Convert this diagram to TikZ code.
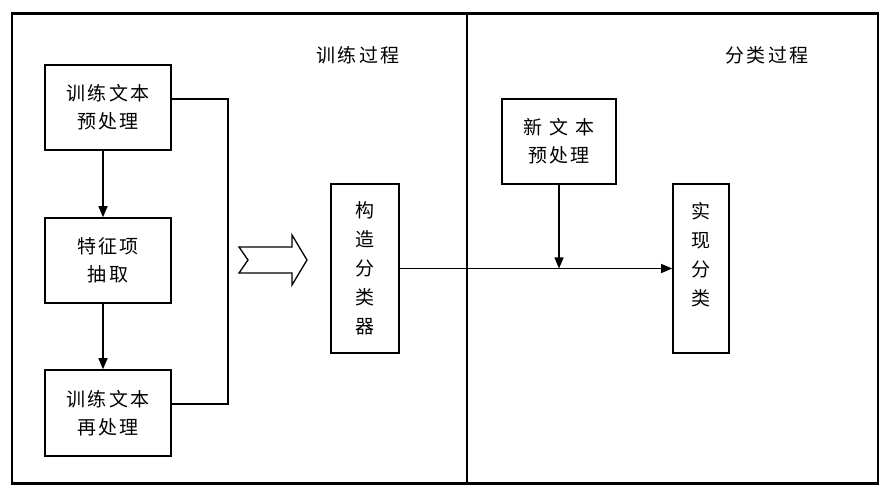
\documentclass[tikz,border=0pt]{standalone}
\usepackage{fontspec}
\setmainfont{Noto Sans CJK SC}[LetterSpace=12]
\usetikzlibrary{arrows.meta}

\begin{document}
\begin{tikzpicture}[x=1pt, y=-1pt,
  >={Triangle[length=11pt,width=9pt]},
  blk/.style = {shape=rectangle, draw, line width=1.6pt,
    align=center, inner sep=0pt,
    font=\fontsize{19}{28}\selectfont},
  tall/.style = {blk, font=\fontsize{19}{29}\selectfont},
  stage/.style = {font=\fontsize{19}{28}\selectfont},
  link/.style = {line width=1.3pt}]
  \useasboundingbox (0,0) rectangle (890,502);
  % frame
  \draw[line width=1.3pt] (12,14) rectangle (878,483);
  \draw[line width=3pt] (11,14) -- (879,14) (11,483) -- (879,483);
  \draw[line width=1.3pt] (467,14) -- (467,483);
  \node[stage] (trainlbl) at (358,55) {训练过程};
  \node[stage] (classlbl) at (767,55) {分类过程};
  % training side
  \node[blk, minimum width=126pt, minimum height=85pt] (pre)  at (108,107.5) {训练文本\\预处理};
  \node[blk, minimum width=126pt, minimum height=85pt] (feat) at (108,260.5) {特征项\\抽取};
  \node[blk, minimum width=126pt, minimum height=86pt] (post) at (108,413) {训练文本\\再处理};
  \draw[link, ->] ([xshift=-5pt]pre.south) -- ([xshift=-5pt]feat.north);
  \draw[link, ->] ([xshift=-5pt]feat.south) -- ([xshift=-5pt]post.north);
  \coordinate (brk) at (228,260);
  \draw[link] ([yshift=8.5pt]pre.east) -| (brk) |- ([yshift=9pt]post.east);
  \draw[line width=1.3pt] (239,247) -- (292,247) -- (292,235) -- (307,260)
    -- (292,285) -- (292,273) -- (239,273) -- (248,260) -- cycle;
  \node[tall, minimum width=68pt, minimum height=169pt] (build) at (365,268.5) {构\\造\\分\\类\\器};
  % classification side
  \node[blk, minimum width=114pt, minimum height=85pt] (newpre) at (559,141.5) {新 文 本\\预处理};
  \node[tall, minimum width=56pt, minimum height=169pt] (apply) at (701,268.5) {实\\现\\分\\类\\~};
  \draw[link, ->] (build.east) -- (apply.west);
  \draw[link, ->] (newpre.south) -- (newpre.south |- apply.west);
\end{tikzpicture}
\end{document}
